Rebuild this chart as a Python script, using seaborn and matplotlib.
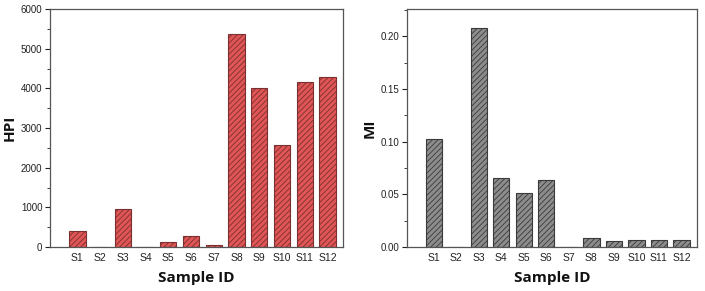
import matplotlib
matplotlib.use("Agg")
import matplotlib.pyplot as plt
import seaborn as sns
import pandas as pd
from matplotlib.ticker import MultipleLocator

samples = ["S1", "S2", "S3", "S4", "S5", "S6", "S7", "S8", "S9", "S10", "S11", "S12"]
hpi = [410, 0, 950, 0, 120, 270, 60, 5360, 4000, 2580, 4160, 4290]
mi = [0.103, 0, 0.208, 0.066, 0.051, 0.064, 0, 0.0085, 0.006, 0.007, 0.007, 0.007]

sns.set_theme(style="white")
plt.rcParams["font.family"] = ["Liberation Sans", "DejaVu Sans"]
plt.rcParams["hatch.linewidth"] = 0.6

df = pd.DataFrame({"Sample": samples, "HPI": hpi, "MI": mi})

fig = plt.figure(figsize=(7.05, 2.91), dpi=100)
ax1 = fig.add_axes([0.071, 0.151, 0.416, 0.818])
ax2 = fig.add_axes([0.577, 0.151, 0.412, 0.818])

specs = [
    (ax1, "HPI", "#e05555", "#7a3030", (0, 6000), 1000, 500),
    (ax2, "MI", "#8c8c8c", "#3a3a3a", (0, 0.226), 0.05, 0.025),
]

for ax, col, face, edge, ylim, major, minor in specs:
    sns.barplot(data=df, x="Sample", y=col, ax=ax, color=face, width=0.72,
                saturation=1, edgecolor=edge, linewidth=0.8)
    for p in ax.patches:
        p.set_hatch("//////")
        p.set_edgecolor(edge)
    ax.set_xlim(-1.2, 11.7)
    ax.set_ylim(*ylim)
    ax.yaxis.set_major_locator(MultipleLocator(major))
    ax.yaxis.set_minor_locator(MultipleLocator(minor))
    ax.tick_params(axis="y", which="major", direction="out", length=3.5, width=0.8,
                   left=True, labelsize=7, colors="#222222", pad=2)
    ax.tick_params(axis="y", which="minor", direction="out", length=2, width=0.6, left=True,
                   colors="#222222")
    ax.tick_params(axis="x", length=0, labelsize=7.5, colors="#222222", pad=4)
    for s in ax.spines.values():
        s.set_color("#555555")
        s.set_linewidth(0.9)
    ax.set_xlabel("Sample ID", fontsize=11, fontweight="bold", family=["Open Sans", "DejaVu Sans"],
                  labelpad=6, color="#111111")
    ax.set_ylabel(col, fontsize=11, fontweight="bold", family=["Open Sans", "DejaVu Sans"],
                  labelpad=3, color="#111111")

ax1.set_yticklabels([f"{int(v)}" for v in ax1.get_yticks()])
ax2.set_yticklabels([f"{v:.2f}" for v in ax2.get_yticks()])

fig.savefig("out.png", dpi=100)
